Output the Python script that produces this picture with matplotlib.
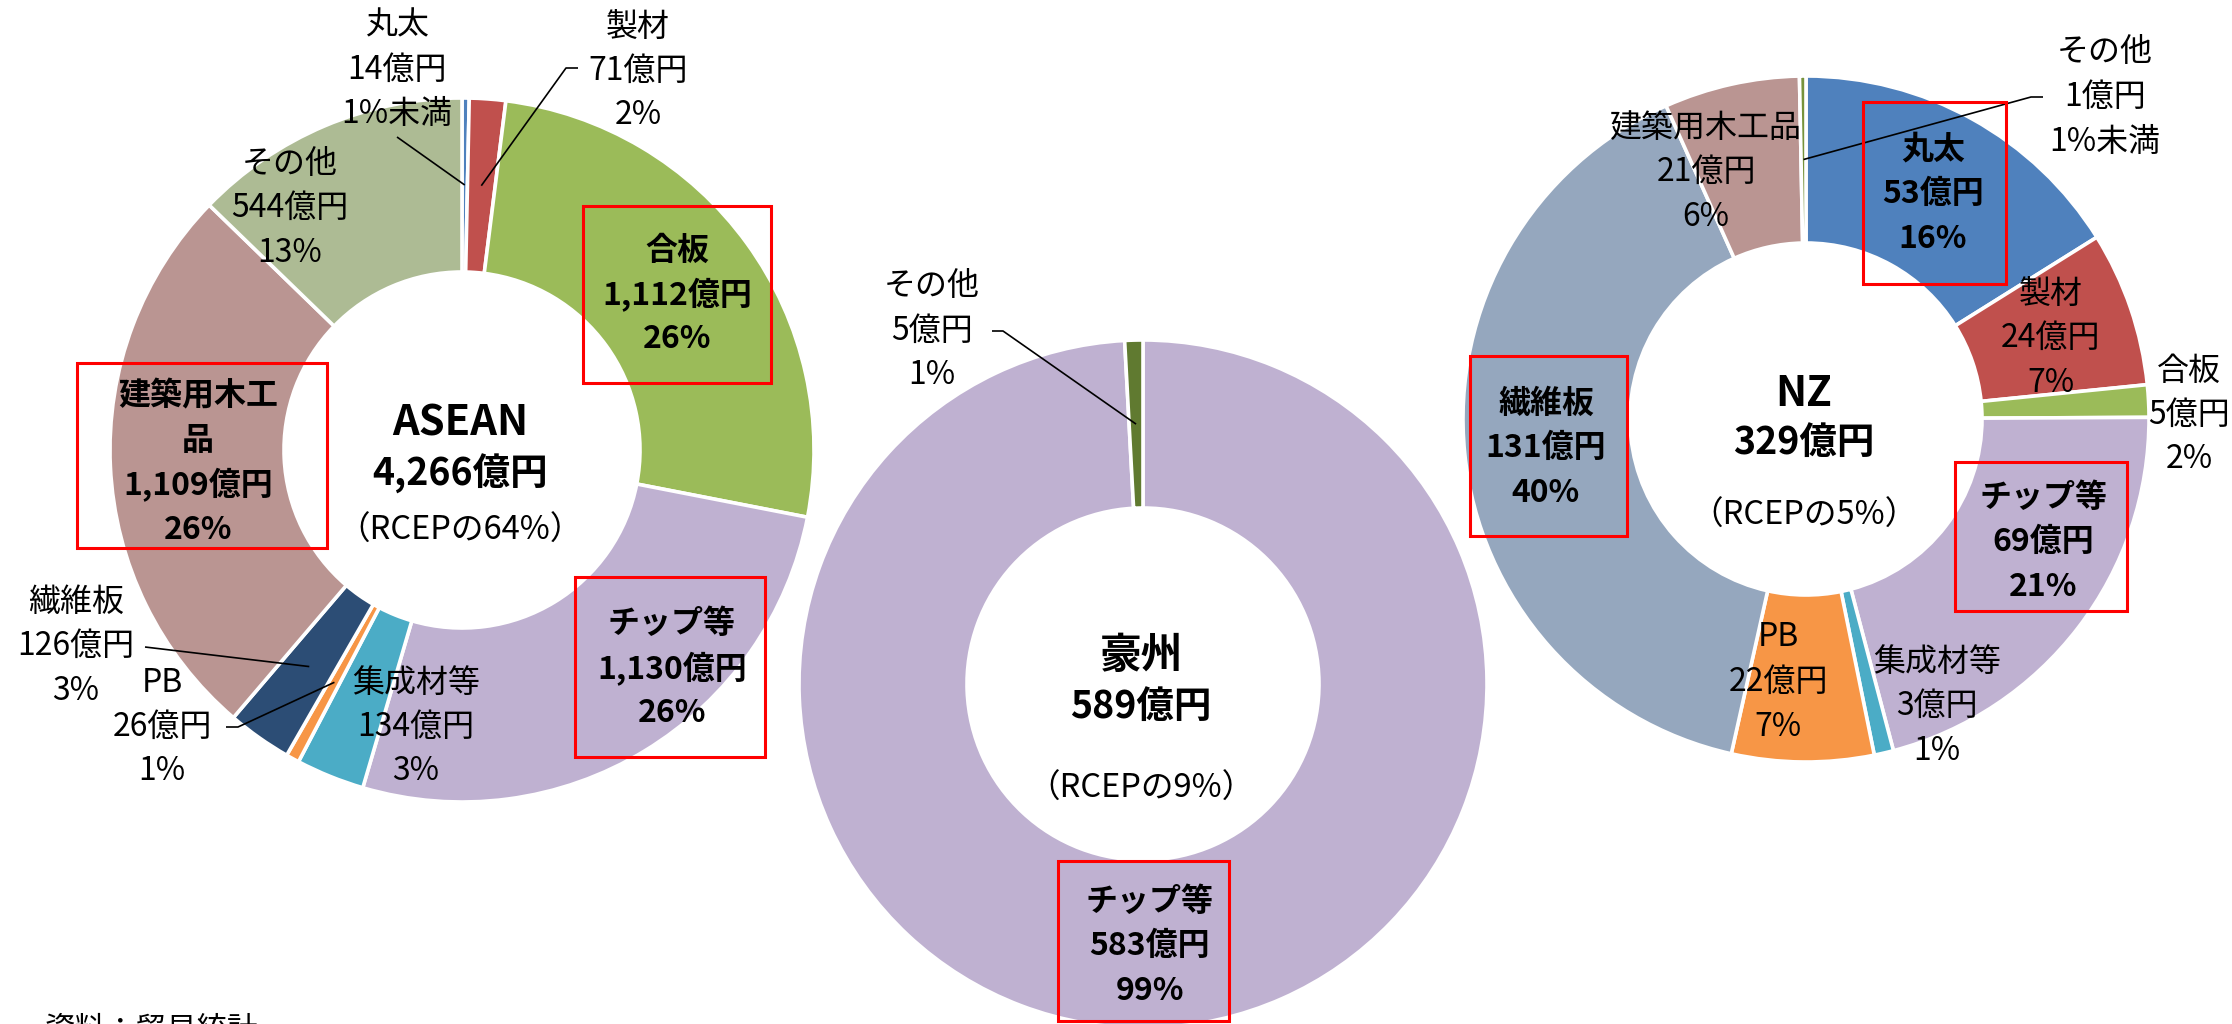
import matplotlib
matplotlib.use("Agg")
import matplotlib.pyplot as plt
import numpy as np
from matplotlib.patches import Rectangle

plt.rcParams['font.family'] = ['Noto Sans CJK JP', 'DejaVu Sans']

# ---------------- data ----------------
region_names = ['ASEAN', '豪州', 'NZ']
region_totals = [4266, 589, 329]          # 億円
rcep_shares = [64, 9, 5]                  # % of RCEP

asean_categories = ['丸太', '製材', '合板', 'チップ等', '集成材等', 'PB', '繊維板', '建築用木工品', 'その他']
asean_values = [14, 71, 1112, 1130, 134, 26, 126, 1109, 544]

aus_categories = ['チップ等', 'その他']
aus_values = [583, 5]

nz_categories = ['丸太', '製材', '合板', 'チップ等', '集成材等', 'PB', '繊維板', '建築用木工品', 'その他']
nz_values = [53, 24, 5, 69, 3, 22, 131, 21, 1]

source_note = '資料：貿易統計'

# ---------------- styles / layout ----------------
W, H = 2232, 1024
asean_colors = ['#4F81BD', '#C0504D', '#9BBB59', '#BFB1D1', '#4BACC6', '#F79646', '#2C4D75', '#BA9592', '#ADBB94']
aus_colors = ['#BFB1D1', '#607A30']
nz_colors = ['#4F81BD', '#C0504D', '#9BBB59', '#BFB1D1', '#4BACC6', '#F79646', '#95A7BE', '#BA9592', '#77933C']

fig = plt.figure(figsize=(W / 100, H / 100), dpi=100)
ax = fig.add_axes([0, 0, 1, 1])


def P(x, y):
    return x, H - y


def pct_text(v, total):
    p = round(v / total * 100)
    return '1%未満' if p == 0 else f'{p}%'


def block(cx, cy, lines, size=23, bold=False, spacing=44.5):
    n = len(lines)
    for i, s in enumerate(lines):
        y = cy + (i - (n - 1) / 2) * spacing
        ax.text(*P(cx, y), s, ha='center', va='center', fontsize=size,
                fontweight='bold' if bold else 'normal', color='black')


charts = [
    dict(cats=asean_categories, vals=asean_values, colors=asean_colors, total=region_totals[0],
         name=region_names[0], share=rcep_shares[0], c=(462, 450), R=352, r=178,
         center_y=(424, 474, 531),
         wrap={'建築用木工品': '建築用木工\n品'},
         labels={'丸太': (397, 70, False), '製材': (638, 71, False), '合板': (677, 295, True),
                 'チップ等': (672, 669, True), '集成材等': (416, 727, False), 'PB': (162, 727, False),
                 '繊維板': (76, 646, False), '建築用木工品': (198, 463, True), 'その他': (290, 208, False)},
         leaders={'丸太': [(397, 137)], '製材': [(578, 68), (566, 68)], 'PB': [(226, 727), (238, 727)],
                  '繊維板': [(145, 647)]},
         boxes=[(583, 206, 771, 383), (575, 577, 765, 757), (77, 363, 327, 548)]),
    dict(cats=aus_categories, vals=aus_values, colors=aus_colors, total=region_totals[1],
         name=region_names[1], share=rcep_shares[1], c=(1143, 684), R=344, r=176,
         center_y=(656, 706, 789),
         wrap={},
         labels={'チップ等': (1150, 946, True), 'その他': (932, 331, False)},
         leaders={'その他': [(992, 331), (1003, 331)]},
         boxes=[(1058, 861, 1229, 1021)]),
    dict(cats=nz_categories, vals=nz_values, colors=nz_colors, total=region_totals[2],
         name=region_names[2], share=rcep_shares[2], c=(1806, 419), R=343, r=176,
         center_y=(394, 442, 516),
         wrap={},
         labels={'丸太': (1933, 194, True), '製材': (2051, 338, False), '合板': (2189, 415, False),
                 'チップ等': (2043, 542, True), '集成材等': (1937, 706, False), 'PB': (1778, 682, False),
                 '繊維板': (1546, 448, True), '建築用木工品': (1706, 172, False), 'その他': (2105, 97, False)},
         leaders={'その他': [(2043, 97), (2031, 97)]},
         boxes=[(1863, 102, 2006, 284), (1955, 462, 2127, 611), (1470, 356, 1627, 536)]),
]

for ch in charts:
    cx, cy = ch['c']
    wedges, _ = ax.pie(ch['vals'], colors=ch['colors'], startangle=90, counterclock=False,
                       radius=ch['R'], center=P(cx, cy), frame=True,
                       wedgeprops=dict(width=ch['R'] - ch['r'], edgecolor='white', linewidth=2.6))
    rmid = (ch['R'] + ch['r']) / 2
    for cat, v, w in zip(ch['cats'], ch['vals'], wedges):
        mid = np.deg2rad((w.theta1 + w.theta2) / 2)
        end = (cx + rmid * np.cos(mid), cy - rmid * np.sin(mid))
        if cat in ch['labels']:
            lx, ly, bold = ch['labels'][cat]
            name = ch['wrap'].get(cat, cat)
            lines = name.split('\n') + [f'{v:,}億円', pct_text(v, ch['total'])]
            block(lx, ly, lines, bold=bold)
        if cat in ch['leaders']:
            pts = ch['leaders'][cat] + [end]
            xs = [p[0] for p in pts]
            ys = [H - p[1] for p in pts]
            ax.plot(xs, ys, color='black', lw=1.2, solid_capstyle='butt')
    # centre text
    y1, y2, y3 = ch['center_y']
    ax.text(*P(cx - 2, y1), ch['name'], ha='center', va='center', fontsize=30, fontweight='bold')
    ax.text(*P(cx - 2, y2), f"{ch['total']:,}億円", ha='center', va='center', fontsize=27, fontweight='bold')
    ax.text(*P(cx - 2, y3), f"（RCEPの{ch['share']}%）", ha='center', va='center', fontsize=23.5)
    for (x0, y0, x1, y1b) in ch['boxes']:
        ax.add_patch(Rectangle(P(x0, y1b), x1 - x0, y1b - y0, fill=False, edgecolor='#FF0000', lw=2.2, zorder=5))

ax.text(*P(45, 1014), source_note, ha='left', va='top', fontsize=22)

ax.set_aspect('equal')
ax.set_xlim(0, W)
ax.set_ylim(0, H)
ax.axis('off')
fig.savefig('out.png', dpi=100, facecolor='white')
